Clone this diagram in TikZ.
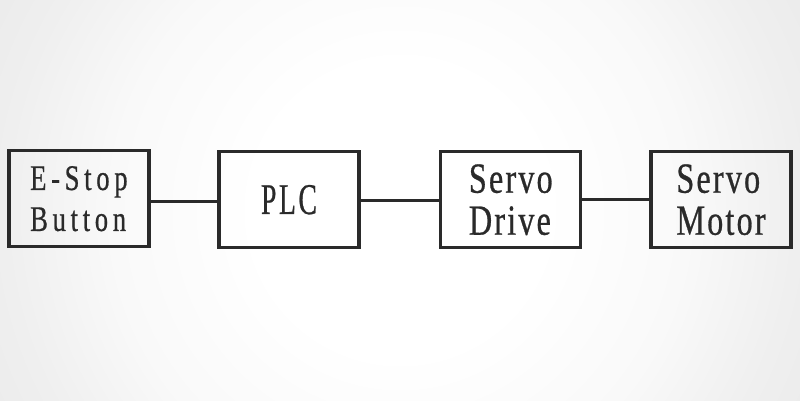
\documentclass[tikz,border=0pt]{standalone}
\usepackage{fontspec}
\setmainfont{Liberation Serif}
\newfontfamily\fa[FakeStretch=0.74,LetterSpace=13,FakeBold=0.6]{Liberation Serif}
\newfontfamily\fb[FakeStretch=0.75,LetterSpace=5,FakeBold=0.6]{Liberation Serif}
\newfontfamily\fc[FakeStretch=0.63,LetterSpace=6,FakeBold=0.6]{Liberation Serif}
\definecolor{bgA}{HTML}{FFFFFF}
\definecolor{bgB}{HTML}{F9F9F9}
\definecolor{bgC}{HTML}{EFEFEF}
\definecolor{bgD}{HTML}{D8D8D8}
\definecolor{bgE}{HTML}{CDCDCD}
\definecolor{ink}{HTML}{2A2A2A}
\definecolor{txt}{HTML}{2A2A2A}
\pgfdeclareradialshading{bgshade}{\pgfpoint{0bp}{0bp}}{color(0bp)=(bgA); color(8bp)=(bgA); color(16bp)=(bgB); color(22bp)=(bgC); color(44bp)=(bgD); color(50bp)=(bgE)}
\tikzset{
  blockbox/.style={draw=ink, line width=3.3pt, minimum width=140pt, minimum height=96pt, inner sep=0pt, outer sep=0pt, text=txt, align=left},
  smalltxt/.style={font=\fa\fontsize{36}{41}\selectfont},
  bigtxt/.style={font=\fb\fontsize{43}{42}\selectfont},
  plctxt/.style={font=\fc\fontsize{43.8}{44}\selectfont},
  wire/.style={draw=ink, line width=3.3pt}
}
\begin{document}
\begin{tikzpicture}[x=1pt,y=-1pt]
\useasboundingbox (0,0) rectangle (800,400);
\begin{scope}
\clip (0,0) rectangle (800,400);
\shade[shading=bgshade] (-50,-240) rectangle (850,660);
\end{scope}
\node[blockbox, smalltxt] (es) at (78.9,198.7) {E-Stop\\Button};
\node[blockbox, plctxt] (plc) at (289,199.7) {PLC};
\node[blockbox, bigtxt] (drv) at (510.8,199.7) {Servo\\Drive};
\node[blockbox, bigtxt] (mot) at (721,199.7) {Servo\\Motor};
\draw[wire] ([yshift=-2.5pt]es.east) -- ([yshift=-2.5pt]es.east -| plc.west);
\draw[wire] ([yshift=-0.8pt]plc.east) -- ([yshift=-0.8pt]plc.east -| drv.west);
\draw[wire] (drv.east) -- (mot.west);
\end{tikzpicture}
\end{document}
